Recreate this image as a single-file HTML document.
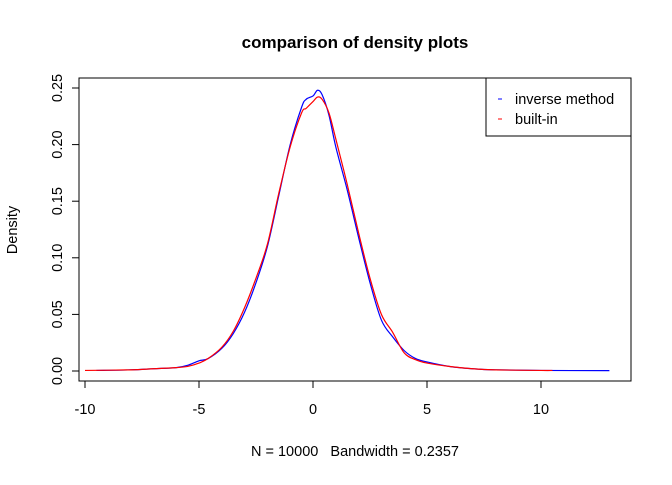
<!DOCTYPE html>
<html><head><meta charset="utf-8"><style>
body{margin:0;background:#fff;font-family:"Liberation Sans",sans-serif;}
svg text{font-family:"Liberation Sans",sans-serif;}
</style></head><body>
<svg id="c" width="672" height="480">
<text x="355" y="48" text-anchor="middle" font-weight="bold" font-size="17">comparison of density plots</text>
<rect x="79" y="78" width="552" height="303" fill="none" stroke="#000"/>
<text x="355" y="456" text-anchor="middle" font-size="14.5" xml:space="preserve" style="white-space:pre">N = 10000   Bandwidth = 0.2357</text>
<text transform="translate(17,230) rotate(-90)" text-anchor="middle" font-size="14.5">Density</text>
<g id="ax"></g>
<g id="series"></g>
<g>
<rect x="486" y="78" width="145" height="58" fill="#fff" stroke="#000"/>
<line x1="498" y1="99" x2="502" y2="99" stroke="blue"/>
<text x="515" y="104" font-size="14.5">inverse method</text>
<line x1="498" y1="119" x2="502" y2="119" stroke="red"/>
<text x="515" y="124" font-size="14.5">built-in</text>
</g>
</svg>
<script>
const blueX=[-9.5,-8,-7,-6,-5.5,-5,-4.6,-4,-3.5,-3,-2.5,-2,-1.5,-1,-0.5,-0.3,0,0.2,0.4,0.7,1,1.5,2,2.5,3,3.5,4,4.5,5,6,7,8,10,13];
const blueY=[0.0005,0.001,0.002,0.003,0.005,0.009,0.011,0.02,0.033,0.052,0.078,0.11,0.155,0.2,0.233,0.24,0.243,0.248,0.244,0.226,0.198,0.16,0.118,0.078,0.045,0.03,0.018,0.011,0.008,0.004,0.002,0.001,0.0005,0.0003];
const redX=[-10,-8,-7,-6,-5.5,-5,-4.6,-4,-3.5,-3,-2.5,-2,-1.5,-1,-0.5,-0.3,0,0.2,0.4,0.7,1,1.5,2,2.5,3,3.5,4,4.5,5,6,7,8,10,10.5];
const redY=[0.0005,0.001,0.002,0.003,0.004,0.007,0.011,0.021,0.035,0.056,0.082,0.112,0.157,0.198,0.228,0.232,0.238,0.242,0.24,0.228,0.205,0.165,0.122,0.082,0.05,0.034,0.016,0.01,0.007,0.004,0.002,0.001,0.0005,0.0005];
const xTicks=[-10,-5,0,5,10];
const yTicks=[0,0.05,0.1,0.15,0.2,0.25];
const yLabels=["0.00","0.05","0.10","0.15","0.20","0.25"];
const sx=v=>313+v*22.8, sy=v=>371-v*1132;
const NS="http://www.w3.org/2000/svg";
const ax=document.getElementById('ax'), se=document.getElementById('series');
function mk(t,a,p){const e=document.createElementNS(NS,t);for(const k in a)e.setAttribute(k,a[k]);p.appendChild(e);return e;}
let l=mk('line',{x1:sx(-10),x2:sx(10),y1:381,y2:381,stroke:'#000'},ax);


xTicks.forEach(v=>{const t=mk('line',{x1:sx(v),x2:sx(v),y1:381,y2:388,stroke:'#000'},ax);


const tx=mk('text',{x:sx(v),y:414,'text-anchor':'middle','font-size':14.5},ax);tx.textContent=v;

});
l=mk('line',{x1:79,x2:79,y1:sy(0),y2:sy(0.25),stroke:'#000'},ax);


yTicks.forEach((v,i)=>{const t=mk('line',{x1:72,x2:79,y1:sy(v),y2:sy(v),stroke:'#000'},ax);


const tx=mk('text',{transform:`translate(62,${sy(v)}) rotate(-90)`,'text-anchor':'middle','font-size':14.5},ax);tx.textContent=yLabels[i];

});
function line(xs,ys,c,n){
const P=xs.map((x,i)=>[sx(x),sy(ys[i])]);
let d='M'+P[0][0]+','+P[0][1];
for(let i=0;i<P.length-1;i++){const p0=P[Math.max(0,i-1)],p1=P[i],p2=P[i+1],p3=P[Math.min(P.length-1,i+2)];
const c1=[p1[0]+(p2[0]-p0[0])/6,p1[1]+(p2[1]-p0[1])/6],c2=[p2[0]-(p3[0]-p1[0])/6,p2[1]-(p3[1]-p1[1])/6];
d+=`C${c1[0]},${c1[1]} ${c2[0]},${c2[1]} ${p2[0]},${p2[1]}`;}
const p=mk('path',{d:d,fill:'none',stroke:c,'stroke-width':1.2},se);

}
line(blueX,blueY,'blue','inverse-method-line');
line(redX,redY,'red','built-in-line');
</script>
</body></html>
